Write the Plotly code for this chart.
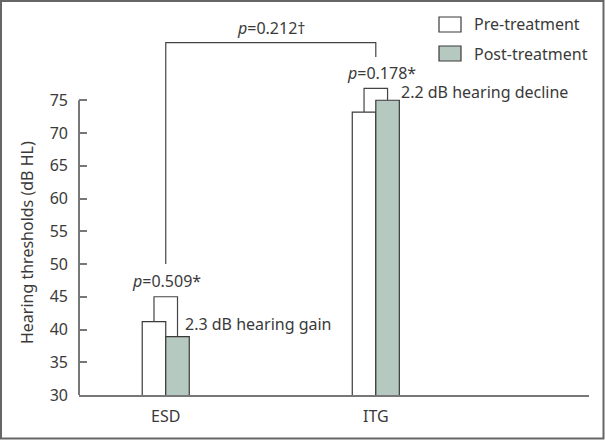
import plotly.graph_objects as go

# ---- data ----
categories = ["ESD", "ITG"]
pre_treatment = [41.2, 73.2]
post_treatment = [38.9, 75.0]
y_ticks = [30, 35, 40, 45, 50, 55, 60, 65, 70, 75]

# within-group brackets (top level of each bracket)
pair_bracket_top = [45.0, 76.8]
pair_p_labels = ["<i>p</i>=0.509*", "<i>p</i>=0.178*"]
change_labels = ["2.3 dB hearing gain", "2.2 dB hearing decline"]

# between-group bracket
between_left_bottom = 50.0
between_right_bottom = 81.6
between_top = 83.8
between_label = "<i>p</i>=0.212\u2020"

# ---- layout / style ----
FONT = "Noto Sans"
FS = 16
TXT = "#3a3a3a"
AX = "#777777"
BAR_EDGE = "#3a3a3a"
POST_FILL = "#b6c9c0"
BARW = 0.112          # width of one bar in category units
L, R, T, B = 79, 16, 2, 46
W, H = 605, 441
PW, PH = W - L - R, H - T - B
pair_p_label_pos = [(0.005, 47.4), (1.025, 79.2)]
change_label_pos = [(0.084, 40.9), (1.111, 76.3)]
between_label_pos = (0.505, 86.0)

fig = go.Figure()
fig.add_trace(go.Bar(x=categories, y=pre_treatment, name="Pre-treatment",
                     marker=dict(color="white", line=dict(color=BAR_EDGE, width=1.2))))
fig.add_trace(go.Bar(x=categories, y=post_treatment, name="Post-treatment",
                     marker=dict(color=POST_FILL, line=dict(color=BAR_EDGE, width=1.2))))

shapes = []
annotations = []
line_style = dict(color="#444444", width=1.2)
txtfont = dict(family=FONT, size=FS, color=TXT)
for i, cat in enumerate(categories):
    xl = i - BARW / 2
    xr = i + BARW / 2
    top = pair_bracket_top[i]
    shapes.append(dict(type="path", xref="x", yref="y",
                       path=f"M {xl},{pre_treatment[i]} L {xl},{top} L {xr},{top} L {xr},{post_treatment[i]}",
                       line=line_style))
    px, py = pair_p_label_pos[i]
    annotations.append(dict(x=px, y=py, xref="x", yref="y",
                            text=pair_p_labels[i], showarrow=False, font=txtfont,
                            xanchor="center", yanchor="middle"))
    cx, cy = change_label_pos[i]
    annotations.append(dict(x=cx, y=cy, xref="x", yref="y",
                            text=change_labels[i], showarrow=False, font=txtfont,
                            xanchor="left", yanchor="middle"))

# between-group bracket
shapes.append(dict(type="path", xref="x", yref="y",
                   path=f"M 0,{between_left_bottom} L 0,{between_top} L 1,{between_top} L 1,{between_right_bottom}",
                   line=line_style))
annotations.append(dict(x=between_label_pos[0], y=between_label_pos[1], xref="x", yref="y",
                        text=between_label, showarrow=False, font=txtfont,
                        xanchor="center", yanchor="middle"))

# y axis line only from 30 to 75
shapes.append(dict(type="line", xref="paper", yref="y", x0=0, x1=0,
                   y0=y_ticks[0], y1=y_ticks[-1], line=dict(color=AX, width=2)))

# y axis title
annotations.append(dict(x=(27 - L) / PW, y=53.2, xref="paper", yref="y",
                        text="Hearing thresholds (dB HL)", textangle=-90, showarrow=False,
                        font=txtfont, xanchor="center", yanchor="middle"))

# manual legend (boxes + labels) in paper coords
legend_items = [("Pre-treatment", "white"), ("Post-treatment", POST_FILL)]
for k, (lab, col) in enumerate(legend_items):
    ytop = 17 + k * 29
    y0p = 1 - (ytop - T) / PH
    y1p = 1 - (ytop + 15 - T) / PH
    shapes.append(dict(type="rect", xref="paper", yref="paper",
                       x0=(439 - L) / PW, x1=(461 - L) / PW, y0=y1p, y1=y0p,
                       fillcolor=col, line=dict(color=BAR_EDGE, width=1.2)))
    annotations.append(dict(x=(472 - L) / PW, y=(y0p + y1p) / 2, xref="paper", yref="paper",
                            text=lab, showarrow=False, font=txtfont,
                            xanchor="left", yanchor="middle"))

# outer frame
shapes.append(dict(type="rect", xref="paper", yref="paper",
                   x0=-(L - 1) / PW, x1=(PW + R - 1.5) / PW,
                   y0=-(B - 2.5) / PH, y1=1 + (T - 1) / PH,
                   line=dict(color="#666666", width=2), fillcolor="rgba(0,0,0,0)"))

fig.update_layout(
    width=W, height=H,
    margin=dict(l=L, r=R, t=T, b=B),
    paper_bgcolor="white", plot_bgcolor="white",
    barmode="group", bargap=1 - 2 * BARW, bargroupgap=0,
    showlegend=False,
    shapes=shapes, annotations=annotations,
    font=txtfont,
)
fig.update_xaxes(range=[-0.413, 2.015], showline=True, linecolor=AX, linewidth=2,
                 showgrid=False, zeroline=False, ticks="", ticklabelstandoff=6,
                 tickfont=txtfont)
fig.update_yaxes(range=[30, 90], showline=False, showgrid=False, zeroline=False,
                 tickvals=y_ticks, ticks="inside", ticklen=8, tickcolor=AX, tickwidth=1.5,
                 ticklabelstandoff=10, tickfont=txtfont)

fig.write_html("out.html")
